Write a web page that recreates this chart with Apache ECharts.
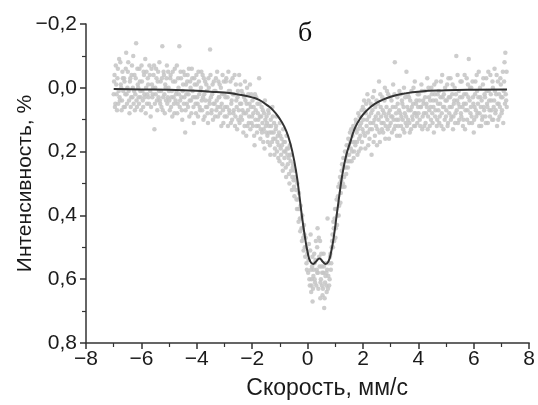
<!DOCTYPE html>
<html><head><meta charset="utf-8">
<script src="https://cdn.jsdelivr.net/npm/echarts@6/dist/echarts.min.js"></script>
<style>html,body{margin:0;padding:0;background:#fff}#c{width:538px;height:405px}</style>
</head><body><div id="c"></div>
<script>
// Tick values
const xTicks = [-8,-6,-4,-2,0,2,4,6,8];
const yTicks = [-0.2,0,0.2,0.4,0.6,0.8];
const panelLabel = 'б';
const xName = 'Скорость, мм/с';
const yName = 'Интенсивность, %';

// Fitted curve (velocity, intensity)
const fitX = [-7.0,-6.0,-5.0,-4.0,-3.5,-3.0,-2.5,-2.0,-1.75,-1.5,-1.25,-1.0,-0.85,-0.7,-0.55,-0.4,-0.3,-0.2,-0.1,0.0,0.1,0.2,0.3,0.43,0.55,0.65,0.75,0.85,0.95,1.05,1.15,1.25,1.4,1.55,1.7,1.9,2.15,2.4,2.7,3.0,3.5,4.0,5.0,6.0,7.2];
const fitY = [0.004,0.005,0.006,0.009,0.012,0.015,0.021,0.030,0.038,0.052,0.070,0.098,0.120,0.152,0.200,0.270,0.335,0.405,0.465,0.515,0.545,0.552,0.545,0.535,0.545,0.552,0.545,0.515,0.465,0.400,0.335,0.275,0.210,0.168,0.128,0.096,0.070,0.052,0.038,0.028,0.018,0.012,0.008,0.006,0.005];

const measuredA = [
[-7.00,0.02],[-6.97,-0.04],[-6.94,0.05],[-6.91,-0.01],[-6.88,0.07],[-6.85,-0.06],[-6.82,0.01],[-6.79,0.03],[-6.76,-0.08],[-6.73,0.00],[-6.70,0.04],[-6.67,-0.03],[-6.64,0.06],[-6.61,-0.02],[-6.58,0.02],[-6.55,-0.11],[-6.52,0.05],[-6.49,-0.05],[-6.46,0.01],[-6.43,0.08],[-6.40,-0.03],[-6.37,0.03],[-6.34,-0.07],[-6.31,0.00],[-6.28,0.05],[-6.25,-0.04],[-6.22,0.02],[-6.19,-0.14],[-6.16,0.06],[-6.13,-0.01],[-6.10,0.03],[-6.07,-0.06],[-6.04,0.01],[-6.01,0.07],[-5.98,-0.02],[-5.95,0.04],[-5.92,-0.05],[-5.89,0.02],[-5.86,-0.09],[-5.83,0.00],[-5.80,0.05],[-5.77,-0.03],[-5.74,0.03],[-5.71,-0.07],[-5.68,0.01],[-5.65,0.06],[-5.62,-0.01],[-5.59,0.02],[-5.56,-0.04],[-5.53,0.13],[-5.50,0.00],[-5.47,-0.06],[-5.44,0.04],[-5.41,-0.02],[-5.38,0.03],[-5.35,-0.08],[-5.32,0.05],[-5.29,0.01],[-5.26,-0.03],[-5.23,0.07],[-5.20,-0.05],[-5.17,0.02],[-5.14,-0.01],[-5.11,0.04],[-5.08,-0.07],[-5.05,0.03],[-5.02,0.00],
[-4.99,0.04],[-4.96,-0.03],[-4.93,0.06],[-4.90,0.01],[-4.87,-0.05],[-4.84,0.03],[-4.81,0.08],[-4.78,-0.02],[-4.75,0.02],[-4.72,-0.07],[-4.69,0.05],[-4.66,0.00],[-4.63,-0.13],[-4.60,0.04],[-4.57,-0.03],[-4.54,0.07],[-4.51,0.01],[-4.48,-0.05],[-4.45,0.03],[-4.42,0.14],[-4.39,-0.01],[-4.36,0.05],[-4.33,-0.04],[-4.30,0.02],[-4.27,0.09],[-4.24,-0.02],[-4.21,0.04],[-4.18,-0.06],[-4.15,0.01],[-4.12,0.06],[-4.09,-0.03],[-4.06,0.03],[-4.03,0.08],[-4.00,-0.01],[-3.97,0.05],[-3.94,-0.05],[-3.91,0.02],[-3.88,0.07],[-3.85,0.00],[-3.82,0.04],[-3.79,-0.04],[-3.76,0.10],[-3.73,0.02],[-3.70,-0.02],[-3.67,0.06],[-3.64,0.01],[-3.61,0.08],[-3.58,-0.03],[-3.55,0.04],[-3.52,-0.12],[-3.49,0.03],[-3.46,0.07],[-3.43,-0.01],[-3.40,0.05],[-3.37,0.01],[-3.34,0.09],[-3.31,-0.03],[-3.28,0.04],[-3.25,0.06],[-3.22,-0.02],[-3.19,0.03],[-3.16,0.08],[-3.13,0.00],[-3.10,0.05],[-3.07,-0.04],[-3.04,0.11],[-3.01,0.02],
[-2.98,0.06],[-2.95,-0.02],[-2.92,0.09],[-2.89,0.03],[-2.86,-0.05],[-2.83,0.07],[-2.80,0.01],[-2.77,0.11],[-2.74,0.04],[-2.71,-0.03],[-2.68,0.08],[-2.65,0.02],[-2.62,0.12],[-2.59,-0.01],[-2.56,0.06],[-2.53,0.03],[-2.50,0.10],[-2.47,-0.04],[-2.44,0.05],[-2.41,0.09],[-2.38,0.01],[-2.35,0.07],[-2.32,0.14],[-2.29,0.03],[-2.26,-0.02],[-2.23,0.08],[-2.20,0.05],[-2.17,0.12],[-2.14,0.02],[-2.11,0.09],[-2.08,-0.01],[-2.05,0.06],[-2.02,0.11],[-1.99,0.04],[-1.96,0.08],[-1.93,0.15],[-1.90,0.02],[-1.87,0.07],[-1.84,0.12],[-1.81,0.05],[-1.78,0.10],[-1.75,-0.03],[-1.72,0.09],[-1.69,0.13],[-1.66,0.06],[-1.63,0.11],[-1.60,0.17],[-1.57,0.08],[-1.54,0.04],[-1.51,0.12],
[-1.48,0.09],[-1.45,0.15],[-1.42,0.07],[-1.39,0.12],[-1.36,0.18],[-1.33,0.10],[-1.30,0.14],[-1.27,0.06],[-1.24,0.16],[-1.21,0.11],[-1.18,0.19],[-1.15,0.13],[-1.12,0.09],[-1.09,0.17],[-1.06,0.22],[-1.03,0.14],[-1.00,0.11],[-0.97,0.19],[-0.94,0.16],[-0.91,0.24],[-0.88,0.13],[-0.85,0.20],[-0.82,0.17],[-0.79,0.25],[-0.76,0.15],[-0.73,0.21],[-0.70,0.19],[-0.67,0.27],[-0.64,0.18],[-0.61,0.23],[-0.58,0.21],[-0.55,0.28],[-0.52,0.24],[-0.49,0.31],[-0.46,0.26],[-0.43,0.29],[-0.40,0.35],[-0.37,0.30],[-0.34,0.38],[-0.31,0.33],[-0.28,0.41],[-0.25,0.37],[-0.22,0.44],[-0.19,0.40],[-0.16,0.47],[-0.13,0.43],[-0.10,0.50],[-0.07,0.47],[-0.04,0.55],[-0.01,0.52],
[0.02,0.58],[0.05,0.49],[0.08,0.62],[0.11,0.46],[0.13,0.64],[0.16,0.56],[0.18,0.67],[0.21,0.59],[0.24,0.52],[0.27,0.61],[0.30,0.48],[0.33,0.57],[0.36,0.44],[0.39,0.63],[0.42,0.53],[0.45,0.48],[0.48,0.60],[0.51,0.56],[0.54,0.65],[0.57,0.58],[0.60,0.69],[0.63,0.61],[0.66,0.55],[0.69,0.64],[0.72,0.41],[0.75,0.59],[0.78,0.62],[0.81,0.53],[0.84,0.57],[0.87,0.50],[0.90,0.46],[0.15,0.60],[0.35,0.58],[0.52,0.62],[0.68,0.58],[0.25,0.55],[0.58,0.52],[0.46,0.66],
[0.93,0.42],[0.96,0.48],[0.99,0.38],[1.02,0.44],[1.05,0.35],[1.08,0.40],[1.11,0.31],[1.14,0.37],[1.17,0.28],[1.20,0.33],[1.23,0.26],[1.26,0.31],[1.29,0.22],[1.32,0.28],[1.35,0.20],[1.38,0.25],[1.41,0.18],[1.44,0.23],[1.47,0.16],[1.50,0.21],[1.53,0.14],[1.56,0.19],[1.59,0.23],[1.62,0.15],[1.65,0.12],[1.68,0.20],[1.71,0.17],[1.74,0.10],[1.77,0.14],[1.80,0.21],[1.83,0.08],[1.86,0.16],[1.89,0.12],[1.92,0.19],[1.95,0.07],[1.98,0.13],
[2.01,0.10],[2.04,0.04],[2.07,0.15],[2.10,0.08],[2.13,0.12],[2.16,0.02],[2.19,0.18],[2.22,0.09],[2.25,0.13],[2.28,0.05],[2.31,0.21],[2.34,0.07],[2.37,0.11],[2.40,0.01],[2.43,0.15],[2.46,0.09],[2.49,0.04],[2.52,0.13],[2.55,0.08],[2.58,-0.02],[2.61,0.17],[2.64,0.06],[2.67,0.11],[2.70,0.03],[2.73,0.14],[2.76,0.08],[2.79,0.00],[2.82,0.12],[2.85,0.06],[2.88,0.10],[2.91,0.02],[2.94,0.16],[2.97,0.07],[3.00,0.11],[3.03,0.04],[3.06,0.09],[3.09,-0.01],[3.12,0.13],[3.15,-0.08],[3.18,0.06],[3.21,0.10],[3.24,0.03],[3.27,0.12],[3.30,0.07],[3.33,0.15],[3.36,0.02],[3.39,0.09],[3.42,0.05],[3.45,0.13],[3.48,0.00],[3.51,0.08],[3.54,0.11],[3.57,-0.05],[3.60,0.06],[3.63,0.10],[3.66,0.03],[3.69,0.14],[3.72,0.07],[3.75,0.01],[3.78,0.09],[3.81,0.05],[3.84,0.12],[3.87,-0.02],[3.90,0.08],[3.93,0.04],[3.96,0.11],[3.99,0.06],
[4.02,0.02],[4.05,0.10],[4.08,0.06],[4.11,-0.01],[4.14,0.13],[4.17,0.04],[4.20,0.08],[4.23,0.01],[4.26,0.11],[4.29,0.05],[4.32,-0.03],[4.35,0.09],[4.38,0.03],[4.41,0.12],[4.44,0.06],[4.47,0.00],[4.50,0.08],[4.53,0.04],[4.56,0.14],[4.59,0.02],[4.62,0.07],[4.65,-0.02],[4.68,0.10],[4.71,0.05],[4.74,0.01],[4.77,0.09],[4.80,0.03],[4.83,0.12],[4.86,-0.04],[4.89,0.06],[4.92,0.02],[4.95,0.10],[4.98,0.04],[5.01,0.07],[5.04,-0.01],[5.07,0.11],[5.10,0.03],[5.13,0.06],[5.16,-0.03],[5.19,0.09],[5.22,0.02],[5.25,0.13],[5.28,0.05],[5.31,0.00],[5.34,0.08],[5.37,-0.10],[5.40,0.04],[5.43,0.11],[5.46,0.01],[5.49,0.06],[5.52,-0.02],[5.55,0.09],[5.58,0.03],[5.61,0.12],[5.64,0.05],[5.67,-0.04],[5.70,0.07],[5.73,0.02],[5.76,0.10],[5.79,-0.01],[5.82,-0.09],[5.85,0.04],[5.88,0.08],[5.91,0.00],[5.94,0.11],[5.97,0.03],[6.00,0.14],[6.03,0.06],[6.06,-0.02],[6.09,0.09],[6.12,0.01],[6.15,0.05],[6.18,-0.05],[6.21,0.08],[6.24,0.03],[6.27,0.12],[6.30,0.10],[6.33,-0.01],[6.36,0.06],[6.39,0.02],[6.42,0.09],[6.45,-0.03],[6.48,0.05],[6.51,0.11],[6.54,0.01],[6.57,0.07],[6.60,-0.04],[6.63,0.04],[6.66,0.10],[6.69,0.00],[6.72,0.06],[6.75,-0.06],[6.78,0.08],[6.81,0.02],[6.84,0.12],[6.87,-0.02],[6.90,0.05],[6.93,0.09],[6.96,-0.03],[6.99,0.03],[7.02,0.07],[7.05,-0.05],[7.08,0.01],[7.11,-0.08],[7.14,-0.11],[7.17,0.04],[7.19,0.06]
];

// Measured points — second half of channels
const measuredB = [
[-6.985,-0.02],[-6.955,0.06],[-6.925,-0.07],[-6.895,0.02],[-6.865,-0.03],[-6.835,0.05],[-6.805,-0.09],[-6.775,0.04],[-6.745,-0.01],[-6.715,0.07],[-6.685,-0.05],[-6.655,0.01],[-6.625,-0.03],[-6.595,0.06],[-6.565,-0.06],[-6.535,0.02],[-6.505,0.00],[-6.475,-0.08],[-6.445,0.04],[-6.415,-0.02],[-6.385,0.06],[-6.355,-0.04],[-6.325,0.03],[-6.295,-0.10],[-6.265,0.01],[-6.235,0.07],[-6.205,-0.03],[-6.175,0.04],[-6.145,-0.06],[-6.115,0.00],[-6.085,0.05],[-6.055,-0.02],[-6.025,0.03],[-5.995,-0.07],[-5.965,0.01],[-5.935,0.06],[-5.905,-0.04],[-5.875,0.03],[-5.845,0.08],[-5.815,-0.05],[-5.785,0.02],[-5.755,-0.01],[-5.725,0.05],[-5.695,-0.04],[-5.665,0.09],[-5.635,-0.06],[-5.605,0.03],[-5.575,0.00],[-5.545,-0.07],[-5.515,0.05],[-5.485,0.02],[-5.455,-0.03],[-5.425,0.07],[-5.395,-0.05],[-5.365,0.01],[-5.335,0.04],[-5.305,-0.02],[-5.275,0.06],[-5.245,-0.13],[-5.215,0.03],[-5.185,-0.04],[-5.155,0.08],[-5.125,0.00],[-5.095,-0.03],[-5.065,0.05],[-5.035,-0.05],
[-5.005,0.01],[-4.975,0.07],[-4.945,-0.04],[-4.915,0.03],[-4.885,0.09],[-4.855,-0.02],[-4.825,0.05],[-4.795,-0.06],[-4.765,0.04],[-4.735,0.01],[-4.705,0.08],[-4.675,-0.03],[-4.645,0.02],[-4.615,0.06],[-4.585,-0.05],[-4.555,0.03],[-4.525,0.10],[-4.495,-0.01],[-4.465,0.05],[-4.435,-0.04],[-4.405,0.07],[-4.375,0.02],[-4.345,-0.02],[-4.315,0.06],[-4.285,-0.06],[-4.255,0.04],[-4.225,0.00],[-4.195,0.08],[-4.165,-0.03],[-4.135,0.03],[-4.105,0.11],[-4.075,-0.01],[-4.045,0.05],[-4.015,-0.04],[-3.985,0.03],[-3.955,0.09],[-3.925,-0.02],[-3.895,0.06],[-3.865,0.01],[-3.835,-0.05],[-3.805,0.07],[-3.775,0.03],[-3.745,-0.03],[-3.715,0.09],[-3.685,0.04],[-3.655,-0.01],[-3.625,0.06],[-3.595,0.11],[-3.565,0.00],[-3.535,0.05],[-3.505,-0.04],[-3.475,0.08],[-3.445,0.02],[-3.415,0.10],[-3.385,-0.02],[-3.355,0.05],[-3.325,0.01],[-3.295,0.07],[-3.265,-0.05],[-3.235,0.09],[-3.205,0.03],[-3.175,-0.01],[-3.145,0.06],[-3.115,0.12],[-3.085,0.02],[-3.055,0.07],[-3.025,-0.02],
[-2.995,0.09],[-2.965,0.03],[-2.935,-0.03],[-2.905,0.06],[-2.875,0.12],[-2.845,0.01],[-2.815,0.08],[-2.785,-0.02],[-2.755,0.05],[-2.725,0.10],[-2.695,0.02],[-2.665,0.07],[-2.635,-0.04],[-2.605,0.09],[-2.575,0.04],[-2.545,0.13],[-2.515,0.01],[-2.485,0.07],[-2.455,0.11],[-2.425,-0.01],[-2.395,0.05],[-2.365,0.10],[-2.335,0.02],[-2.305,0.08],[-2.275,0.12],[-2.245,0.04],[-2.215,0.15],[-2.185,0.00],[-2.155,0.07],[-2.125,0.11],[-2.095,0.05],[-2.065,0.13],[-2.035,0.02],[-2.005,0.09],[-1.975,0.12],[-1.945,0.06],[-1.915,0.18],[-1.885,0.10],[-1.855,0.03],[-1.825,0.14],[-1.795,0.08],[-1.765,0.12],[-1.735,0.05],[-1.705,0.16],[-1.675,0.09],[-1.645,0.14],[-1.615,0.07],[-1.585,0.13],[-1.555,0.19],[-1.525,0.10],
[-1.495,0.14],[-1.465,0.11],[-1.435,0.17],[-1.405,0.08],[-1.375,0.14],[-1.345,0.21],[-1.315,0.12],[-1.285,0.17],[-1.255,0.09],[-1.225,0.14],[-1.195,0.21],[-1.165,0.16],[-1.135,0.12],[-1.105,0.20],[-1.075,0.15],[-1.045,0.18],[-1.015,0.23],[-0.985,0.15],[-0.955,0.21],[-0.925,0.18],[-0.895,0.26],[-0.865,0.17],[-0.835,0.22],[-0.805,0.20],[-0.775,0.28],[-0.745,0.19],[-0.715,0.24],[-0.685,0.22],[-0.655,0.30],[-0.625,0.21],[-0.595,0.26],[-0.565,0.32],[-0.535,0.25],[-0.505,0.29],[-0.475,0.34],[-0.445,0.28],[-0.415,0.32],[-0.385,0.38],[-0.355,0.35],[-0.325,0.42],[-0.295,0.38],[-0.265,0.45],[-0.235,0.41],[-0.205,0.48],[-0.175,0.44],[-0.145,0.51],[-0.115,0.46],[-0.085,0.53],[-0.055,0.50],[-0.025,0.57],
[0.035,0.54],[0.065,0.60],[0.095,0.51],[0.125,0.57],[0.145,0.62],[0.175,0.53],[0.195,0.63],[0.225,0.57],[0.255,0.60],[0.285,0.54],[0.315,0.62],[0.345,0.50],[0.375,0.58],[0.405,0.47],[0.435,0.56],[0.465,0.61],[0.495,0.52],[0.525,0.58],[0.555,0.63],[0.585,0.56],[0.615,0.66],[0.645,0.59],[0.675,0.62],[0.705,0.57],[0.735,0.63],[0.765,0.55],[0.795,0.60],[0.825,0.52],[0.855,0.55],[0.885,0.48],
[0.915,0.50],[0.945,0.44],[0.975,0.41],[1.005,0.47],[1.035,0.38],[1.065,0.43],[1.095,0.34],[1.125,0.40],[1.155,0.30],[1.185,0.36],[1.215,0.29],[1.245,0.24],[1.275,0.30],[1.305,0.25],[1.335,0.31],[1.365,0.22],[1.395,0.27],[1.425,0.21],[1.455,0.25],[1.485,0.18],[1.515,0.23],[1.545,0.17],[1.575,0.13],[1.605,0.20],[1.635,0.17],[1.665,0.22],[1.695,0.13],[1.725,0.18],[1.755,0.11],[1.785,0.17],[1.815,0.13],[1.845,0.20],[1.875,0.09],[1.905,0.15],[1.935,0.11],[1.965,0.17],[1.995,0.06],
[2.025,0.14],[2.055,0.07],[2.085,0.19],[2.115,0.05],[2.145,0.10],[2.175,0.14],[2.205,0.04],[2.235,0.16],[2.265,0.11],[2.295,0.08],[2.325,0.13],[2.355,0.03],[2.385,0.17],[2.415,0.10],[2.445,0.06],[2.475,0.12],[2.505,0.18],[2.535,0.05],[2.565,0.10],[2.595,0.14],[2.625,0.02],[2.655,0.09],[2.685,0.13],[2.715,0.07],[2.745,0.11],[2.775,0.04],[2.805,0.16],[2.835,0.09],[2.865,0.01],[2.895,0.13],[2.925,0.08],[2.955,0.12],[2.985,0.03],[3.015,0.09],[3.045,0.14],[3.075,0.06],[3.105,0.10],[3.135,0.02],[3.165,0.12],[3.195,0.08],[3.225,0.15],[3.255,0.05],[3.285,0.10],[3.315,0.01],[3.345,0.08],[3.375,0.12],[3.405,0.04],[3.435,0.10],[3.465,0.06],[3.495,0.14],[3.525,0.03],[3.555,0.09],[3.585,0.12],[3.615,0.02],[3.645,0.07],[3.675,0.11],[3.705,0.04],[3.735,0.13],[3.765,0.06],[3.795,0.10],[3.825,0.00],[3.855,0.08],[3.885,0.12],[3.915,0.05],[3.945,0.09],[3.975,0.02],
[4.005,0.08],[4.035,0.04],[4.065,0.12],[4.095,0.06],[4.125,0.01],[4.155,0.09],[4.185,0.05],[4.215,0.12],[4.245,0.03],[4.275,0.08],[4.305,0.06],[4.335,0.13],[4.365,0.00],[4.395,0.07],[4.425,0.04],[4.455,0.10],[4.485,0.02],[4.515,0.11],[4.545,0.06],[4.575,-0.01],[4.605,0.09],[4.635,0.04],[4.665,0.12],[4.695,0.02],[4.725,0.07],[4.755,0.11],[4.785,0.05],[4.815,-0.02],[4.845,0.08],[4.875,0.03],[4.905,0.13],[4.935,0.06],[4.965,0.00],[4.995,0.09],[5.025,0.04],[5.055,0.12],[5.085,-0.03],[5.115,0.08],[5.145,0.03],[5.175,0.10],[5.205,0.06],[5.235,-0.01],[5.265,0.09],[5.295,0.04],[5.325,0.11],[5.355,0.02],[5.385,0.07],[5.415,-0.04],[5.445,0.05],[5.475,0.10],[5.505,0.03],[5.535,0.08],[5.565,-0.02],[5.595,0.06],[5.625,0.10],[5.655,0.02],[5.685,0.13],[5.715,0.05],[5.745,-0.03],[5.775,0.07],[5.805,0.03],[5.835,0.11],[5.865,0.00],[5.895,0.06],[5.925,0.09],[5.955,-0.02],[5.985,0.05],[6.015,0.10],[6.045,0.02],[6.075,0.07],[6.105,-0.04],[6.135,0.08],[6.165,0.03],[6.195,0.12],[6.225,0.00],[6.255,0.06],[6.285,0.04],[6.315,0.09],[6.345,-0.03],[6.375,0.07],[6.405,0.03],[6.435,0.11],[6.465,0.01],[6.495,0.06],[6.525,-0.05],[6.555,0.04],[6.585,0.09],[6.615,0.02],[6.645,0.07],[6.675,-0.02],[6.705,0.10],[6.735,0.04],[6.765,0.01],[6.795,0.07],[6.825,-0.04],[6.855,0.05],[6.885,0.10],[6.915,0.02],[6.945,0.06],[6.975,-0.01],[7.005,0.08],[7.035,0.03],[7.065,0.11],[7.095,-0.02],[7.125,0.05],[7.155,0.02],[7.185,-0.05]
];

const minus = s => s.replace('-', '\u2212');
const fmtX = v => minus(String(Math.round(v)));
const fmtY = v => minus((Math.round(v*10)/10).toFixed(1).replace('.', ','));

const chart = echarts.init(document.getElementById('c'), null, {renderer:'canvas'});
const axisCol = '#333';
const labelCol = '#1a1a1a';
chart.setOption({
  animation: false,
  backgroundColor: '#fff',
  grid: {left: 86, right: 5, top: 24, bottom: 52, containLabel: false},
  title: {text: panelLabel, left: 293, top: 15, textStyle: {fontFamily: 'Liberation Serif', fontSize: 28, fontWeight: 'normal', color: '#111'}},
  xAxis: {
    type: 'value', min: xTicks[0], max: xTicks[xTicks.length-1], interval: 2,
    name: xName, nameLocation: 'middle', nameGap: 34,
    nameTextStyle: {fontFamily: 'Liberation Sans', fontSize: 23, color: labelCol, padding: [0,0,0,39]},
    axisLine: {show: true, onZero: false, lineStyle: {color: axisCol, width: 1.5}},
    axisTick: {show: true, inside: false, length: 6, lineStyle: {color: axisCol, width: 1.5}},
    minorTick: {show: true, splitNumber: 2, length: 4, lineStyle: {color: axisCol, width: 1.2}},
    splitLine: {show: false},
    axisLabel: {fontFamily: 'Liberation Sans', fontSize: 21, color: labelCol, margin: 6, formatter: fmtX}
  },
  yAxis: {
    type: 'value', inverse: true, min: yTicks[0], max: yTicks[yTicks.length-1], interval: 0.2,
    name: yName, nameLocation: 'middle', nameGap: 50, nameRotate: 90, nameMoveOverlap: false,
    nameTextStyle: {fontFamily: 'Liberation Sans', fontSize: 21, color: labelCol},
    axisLine: {show: true, onZero: false, lineStyle: {color: axisCol, width: 1.5}},
    axisTick: {show: true, inside: false, length: 6, lineStyle: {color: axisCol, width: 1.5}},
    minorTick: {show: true, splitNumber: 2, length: 4, lineStyle: {color: axisCol, width: 1.2}},
    splitLine: {show: false},
    axisLabel: {fontFamily: 'Liberation Sans', fontSize: 21, color: labelCol, margin: 9, formatter: fmtY}
  },
  series: [
    {type: 'scatter', data: measuredA.concat(measuredB), symbol: 'circle', symbolSize: 4.5,
     itemStyle: {color: '#c4c4c4', opacity: 0.85}, silent: true, z: 2},
    {type: 'line', data: fitX.map((x,i)=>[x, fitY[i]]), symbol: 'none', smooth: true,
     lineStyle: {color: '#333', width: 2}, z: 3, silent: true}
  ]
});
</script></body></html>
